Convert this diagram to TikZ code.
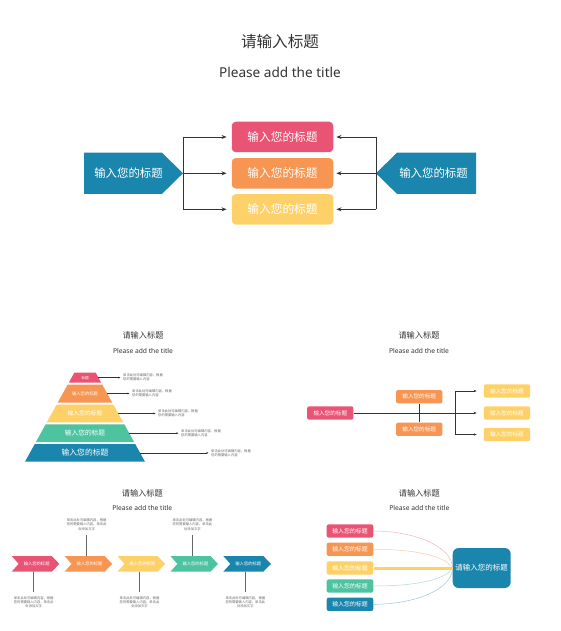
\documentclass[tikz,border=0pt]{standalone}
\usepackage{fontspec}
\setmainfont{Noto Sans}
\newfontfamily\cjk{Noto Sans CJK SC}
\usetikzlibrary{arrows.meta}
\definecolor{cpink}{HTML}{E95475}
\definecolor{corange}{HTML}{F79552}
\definecolor{cyellow}{HTML}{FDD168}
\definecolor{cteal}{HTML}{4DC3A0}
\definecolor{cblue}{HTML}{1B86AD}
\definecolor{tcol}{HTML}{333333}
\definecolor{dcol}{HTML}{666666}
\definecolor{lpink}{HTML}{F3B3C2}
\definecolor{lorange}{HTML}{F9CBAA}
\definecolor{lteal}{HTML}{A9DFCF}
\definecolor{lblue}{HTML}{9CC7D9}
\newcommand\fsz[2]{\fontsize{#1}{#2}\selectfont}
\begin{document}
\begin{tikzpicture}[x=1pt,y=-1pt,
  ttl/.style={font=\cjk\fsz{15.6}{18}, text=tcol, inner sep=0pt},
  sub/.style={font=\fsz{13.6}{16}, text=tcol, inner sep=0pt},
  sttl/.style={font=\cjk\fsz{8.2}{10}, text=tcol, inner sep=0pt},
  ssub/.style={font=\fsz{6.7}{8}, text=tcol, inner sep=0pt},
  cbox/.style={fill=#1, rounded corners=4pt, minimum width=101.5pt, minimum height=30.5pt, inner sep=0pt, text=white, font=\cjk\fsz{11.7}{14}},
  sbox/.style={fill=#1, rounded corners=2pt, minimum width=46.3pt, minimum height=13.3pt, inner sep=0pt, text=white, font=\cjk\fsz{5.6}{7}},
  qbox/.style={fill=#1, rounded corners=2pt, minimum width=46.6pt, minimum height=13.3pt, inner sep=0pt, text=white, font=\cjk\fsz{5.9}{7}},
  wtext/.style={text=white, inner sep=0pt, font=\cjk\fsz{#1}{#1}},
  ln/.style={draw=tcol, line width=0.8pt},
  arr/.style={ln, -{Stealth[length=5pt,width=4pt]}},
  sln/.style={draw=tcol, line width=0.5pt},
  sarr/.style={sln, -{Stealth[length=3pt,width=2.4pt]}},
  tarr/.style={draw=tcol, line width=0.4pt, -{Stealth[length=2.2pt,width=1.8pt]}},
  pdesc/.style={anchor=west, align=left, inner sep=0pt, text=dcol, font=\cjk\fsz{3.3}{4.2}},
  tdesc/.style={align=center, inner sep=0pt, text=dcol, font=\cjk\fsz{3.3}{4.3}},
  vl/.style={draw=dcol, line width=0.5pt}]
\useasboundingbox (0,0) rectangle (560,631);
\fill[white] (0,0) rectangle (560,631);

% ---------------- top panel ----------------
\node[ttl] (T0) at (280,41.7) {请输入标题};
\node[sub] (S0) at (280,72) {Please add the title};

\node[cbox=cpink] (c1) at (282.5,137) {输入您的标题};
\node[cbox=corange] (c2) at (282.5,173.3) {输入您的标题};
\node[cbox=cyellow] (c3) at (282.5,209.3) {输入您的标题};

\fill[cblue] (84,152.7) -- (162,152.7) -- (183,173.3) -- (162,193.9) -- (84,193.9) -- cycle;
\node[wtext=11.4] (pl) at (128.5,173.3) {输入您的标题};
\coordinate (ltip) at (183,173.3);
\fill[cblue] (476,152.7) -- (397,152.7) -- (376,173.3) -- (397,193.9) -- (476,193.9) -- cycle;
\node[wtext=11.4] (pr) at (433.5,173.3) {输入您的标题};
\coordinate (rtip) at (376,173.3);

\coordinate (l1) at (183,137);
\coordinate (l3) at (183,209.3);
\draw[ln] (l1) -- (l3);
\draw[arr, shorten >=5pt] (l1) -- (c1);
\draw[arr, shorten >=5pt] (ltip) -- (c2);
\draw[arr, shorten >=5pt] (l3) -- (c3);
\coordinate (r1) at (376,137);
\coordinate (r3) at (376,209.3);
\draw[ln] (r1) -- (r3);
\draw[arr, shorten >=3pt] (r1) -- (c1);
\draw[arr, shorten >=3pt] (rtip) -- (c2);
\draw[arr, shorten >=3pt] (r3) -- (c3);

% ---------------- pyramid panel ----------------
\node[sttl] (T1) at (143,335.7) {请输入标题};
\node[ssub] (S1) at (143,351) {Please add the title};

\fill[cpink] (74.3,372.7) -- (95.7,372.7) -- (101.1,382.5) -- (68.9,382.5) -- cycle;
\node[wtext=3.7] (p1) at (85,377.6) {标题};
\fill[corange] (67.8,384.5) -- (102.2,384.5) -- (112.2,402.5) -- (57.8,402.5) -- cycle;
\node[wtext=4.3] (p2) at (85,393.5) {输入您的标题};
\fill[cyellow] (56.7,404.5) -- (113.3,404.5) -- (123.2,422.3) -- (46.8,422.3) -- cycle;
\node[wtext=5.8] (p3) at (85,413.4) {输入您的标题};
\fill[cteal] (45.7,424.3) -- (124.3,424.3) -- (134.1,442) -- (35.9,442) -- cycle;
\node[wtext=6.7] (p4) at (85,433.2) {输入您的标题};
\fill[cblue] (34.8,444) -- (135.2,444) -- (145,461.7) -- (25,461.7) -- cycle;
\node[wtext=7.8] (p5) at (85,452.9) {输入您的标题};

\coordinate (pa1) at (98.4,377.6);
\coordinate (pa2) at (107.2,393.5);
\coordinate (pa3) at (118.2,413.4);
\coordinate (pa4) at (129.2,433.2);
\coordinate (pa5) at (140.1,452.9);
\node[pdesc] (pt1) at (123,377.6) {单击此处可编辑内容，根据\\您的需要输入内容};
\node[pdesc] (pt2) at (132,393.5) {单击此处可编辑内容，根据\\您的需要输入内容};
\node[pdesc] (pt3) at (158,413.4) {单击此处可编辑内容，根据\\您的需要输入内容};
\node[pdesc] (pt4) at (181,433.2) {单击此处可编辑内容，根据\\您的需要输入内容};
\node[pdesc] (pt5) at (211,452.9) {单击此处可编辑内容，根据\\您的需要输入内容};
\foreach \k in {1,...,5} {
  \draw[tarr, shorten >=2.5pt] (pa\k) -- (pt\k.west);
}

% ---------------- branching panel ----------------
\node[sttl] (T2) at (419,335.7) {请输入标题};
\node[ssub] (S2) at (419,351) {Please add the title};

\node[sbox=cpink] (bp) at (330.3,413) {输入您的标题};
\node[sbox=corange] (bo1) at (419.2,396.7) {输入您的标题};
\node[sbox=corange] (bo2) at (419.2,429.3) {输入您的标题};
\node[sbox=cyellow] (by1) at (507,391) {输入您的标题};
\node[sbox=cyellow] (by2) at (507,413) {输入您的标题};
\node[sbox=cyellow] (by3) at (507,434.5) {输入您的标题};

\draw[sarr, shorten >=7pt] (bp) -- (by2);
\draw[sln] (bo1) -- (bo2);
\coordinate (bb1) at (455.7,391);
\coordinate (bb3) at (455.7,434.5);
\draw[sln] (bb1) -- (bb3);
\draw[sarr, shorten >=7pt] (bb1) -- (by1);
\draw[sarr, shorten >=7pt] (bb3) -- (by3);

% ---------------- timeline panel ----------------
\node[sttl] (T3) at (142.3,493.3) {请输入标题};
\node[ssub] (S3) at (142.3,508.3) {Please add the title};

\foreach \i/\c/\d in {1/cpink/1,2/corange/0,3/cyellow/1,4/cteal/0,5/cblue/1} {
  \pgfmathsetmacro\L{11.7+52.9*(\i-1)}
  \fill[\c] (\L,556) -- ({\L+40},556) -- ({\L+47.6},563.85) -- ({\L+40},571.7) -- (\L,571.7) -- ({\L+7},563.85) -- cycle;
  \node[wtext=4.3] (ch\i) at ({\L+25},563.85) {输入您的标题};
  \ifnum\d=1
    \coordinate (ce\i) at ({\L+22},571.7);
    \node[tdesc, anchor=north] (td\i) at ({\L+22},596) {单击此处可编辑内容，根据\\您的需要输入内容，单击此\\处添加文字};
    \draw[vl, shorten >=4.3pt] (ce\i) -- (td\i.north);
  \else
    \coordinate (ce\i) at ({\L+22},556);
    \node[tdesc, anchor=south] (td\i) at ({\L+22},530.5) {单击此处可编辑内容，根据\\您的需要输入内容，单击此\\处添加文字};
    \draw[vl, shorten >=4.5pt] (ce\i) -- (td\i.south);
  \fi
}

% ---------------- converging panel ----------------
\node[sttl] (T4) at (419.3,493.3) {请输入标题};
\node[ssub] (S4) at (419.3,508.3) {Please add the title};

\node[qbox=cpink] (q1) at (350,531) {输入您的标题};
\node[qbox=corange] (q2) at (350,549.3) {输入您的标题};
\node[qbox=cyellow] (q3) at (350,568) {输入您的标题};
\node[qbox=cteal] (q4) at (350,586) {输入您的标题};
\node[qbox=cblue] (q5) at (350,604.3) {输入您的标题};
\node[fill=cblue, rounded corners=6pt, minimum width=58pt, minimum height=40pt, inner sep=0pt, text=white, font=\cjk\fsz{7.5}{9}] (B) at (481.7,568) {请输入您的标题};

\draw[lpink, line width=0.5pt] (q1.east) .. controls +(42,0) and +(0,-21) .. (B.west);
\draw[lorange, line width=0.5pt] (q2.east) .. controls +(42,0) and +(-7,-12) .. (B.west);
\draw[lteal, line width=0.5pt] (q4.east) .. controls +(42,0) and +(-7,12) .. (B.west);
\draw[lblue, line width=0.5pt] (q5.east) .. controls +(42,0) and +(0,21) .. (B.west);
\draw[cyellow, line width=3pt] (q3.east) -- (B.west);
\end{tikzpicture}
\end{document}
